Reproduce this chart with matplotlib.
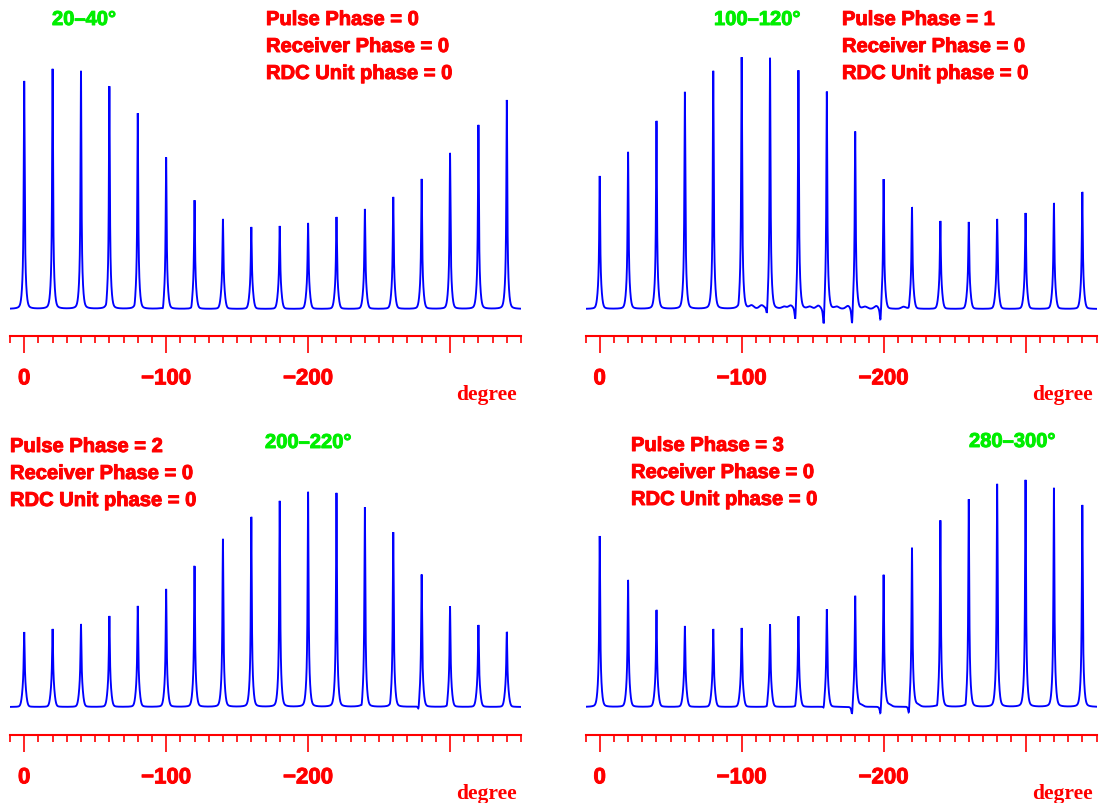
import numpy as np
import matplotlib
matplotlib.use("Agg")
import matplotlib.pyplot as plt
import matplotlib.patheffects as pe
from matplotlib.ticker import FixedLocator, FixedFormatter
from matplotlib import font_manager as fm

# ---------------- data ----------------
peak_positions = [0, -20, -40, -60, -80, -100, -120, -140, -160, -180,
                  -200, -220, -240, -260, -280, -300, -320, -340]

tl_heights = [228, 240, 238, 223, 196, 152, 109, 90, 82, 83, 86, 92, 100, 112, 130, 156, 184, 209]
tr_heights = [133, 157, 188, 217, 238, 252, 252, 240, 219, 179, 131, 102, 88, 87, 90, 96, 106, 117]
bl_heights = [75, 78, 83, 91, 101, 118, 141, 168, 190, 206, 215, 214, 200, 175, 133, 101, 82, 75]
br_heights = [171, 127, 97, 81, 78, 79, 83, 91, 98, 112, 133, 160, 187, 208, 223, 227, 219, 202]

tl_dip_pos = [-57.8, -77.8, -97.8, -117.8]
tl_dip_depth = [-4, -4, -6, -4]
tr_dip_pos = [-97.8, -117.8, -137.8, -157.8, -177.8, -197.8, -217.8]
tr_dip_depth = [-5, -14, -20, -24, -23, -18, -4]
tr_ripple_pos = [-107, -114, -130, -134.5, -148, -154, -167, -175, -187, -195, -214]
tr_ripple_h = [3, 3, 2, 3, 2, 3, 2, 3, 2, 3, 2]
bl_dip_pos = [-237.8, -257.8, -277.8, -297.8]
bl_dip_depth = [-6, -4, -8, -4]
br_dip_pos = [-117.8, -137.8, -157.8, -177.8, -197.8, -217.8, -237.8, -257.8]
br_dip_depth = [-4, -4, -6, -13, -13, -13, -6, -6]
br_ripple_pos = [-184, -204, -224]
br_ripple_h = [2, 2, 2]

range_labels = ["20–40°", "100–120°", "200–220°", "280–300°"]
pulse_phases = [0, 1, 2, 3]
receiver_phases = [0, 0, 0, 0]
rdc_phases = [0, 0, 0, 0]

major_ticks = [0, -100, -200, -300]
major_labels = ["0", "−100", "−200", ""]
minor_ticks = list(range(10, -351, -10))
x_limits = (10, -350)
axis_label = "degree"

# ---------------- styling ----------------
RED = "#ff0000"
GREEN = "#00ee00"
BLUE = "#0000ff"

names = {f.name for f in fm.fontManager.ttflist}
if "Liberation Sans Narrow" in names:
    SANS = ["Liberation Sans Narrow", "Liberation Sans", "DejaVu Sans"]
    ann_fs, tick_fs = 17.5, 18
else:
    SANS = ["Liberation Sans", "DejaVu Sans"]
    ann_fs, tick_fs = 14.5, 16
SERIF = ["Liberation Serif", "DejaVu Serif"]

W, H = 1100, 804
fig = plt.figure(figsize=(W / 100, H / 100), dpi=100)
fig.patch.set_facecolor("white")


def fx(px):
    return px / W


def fy(py):
    return 1 - py / H


def thick(color):
    return [pe.withStroke(linewidth=0.7, foreground=color)]


def spectrum(x, heights, dip_pos, dip_depth, rip_pos, rip_h):
    y = np.zeros_like(x)
    g = 0.38   # spike half width (deg)
    s = 1.2    # skirt sigma (deg)
    for p, h in zip(peak_positions, heights):
        skirt = 22.0
        y += (h - skirt) * g**2 / ((x - p) ** 2 + g**2)
        y += skirt * np.exp(-((x - p) ** 2) / (2 * s**2))
    for p, d in zip(dip_pos, dip_depth):
        y += d * 0.6**2 / ((x - p) ** 2 + 0.6**2)
    for p, h in zip(rip_pos, rip_h):
        y += h * np.exp(-((x - p) ** 2) / (2 * 1.5**2))
    return y


panels = [
    dict(left=10, axis_y=337, base_y=310, top_y=45, heights=tl_heights,
         dips=(tl_dip_pos, tl_dip_depth), rip=([], []),
         green=(52, 26), red=(266, 26)),
    dict(left=585.5, axis_y=337, base_y=310, top_y=45, heights=tr_heights,
         dips=(tr_dip_pos, tr_dip_depth), rip=(tr_ripple_pos, tr_ripple_h),
         green=(714, 26), red=(842, 26)),
    dict(left=10, axis_y=736, base_y=708, top_y=440, heights=bl_heights,
         dips=(bl_dip_pos, bl_dip_depth), rip=([], []),
         green=(265, 449), red=(10, 453)),
    dict(left=585.5, axis_y=736, base_y=708, top_y=440, heights=br_heights,
         dips=(br_dip_pos, br_dip_depth), rip=(br_ripple_pos, br_ripple_h),
         green=(969, 448), red=(631, 452)),
]

x = np.linspace(x_limits[0], x_limits[1], 24001)
width_px = 511

for i, pn in enumerate(panels):
    h_px = pn["axis_y"] - pn["top_y"]
    ax = fig.add_axes([fx(pn["left"]), fy(pn["axis_y"]), width_px / W, h_px / H])
    y = spectrum(x, pn["heights"], pn["dips"][0], pn["dips"][1], pn["rip"][0], pn["rip"][1])
    ax.plot(x, y, color=BLUE, lw=1.35, solid_joinstyle="miter")
    ax.set_xlim(*x_limits)
    ax.set_ylim(-(pn["axis_y"] - pn["base_y"]), pn["base_y"] - pn["top_y"])
    for side in ("top", "left", "right"):
        ax.spines[side].set_visible(False)
    ax.spines["bottom"].set_color(RED)
    ax.spines["bottom"].set_linewidth(1.5)
    ax.set_facecolor("none")
    ax.yaxis.set_visible(False)
    ax.xaxis.set_major_locator(FixedLocator(major_ticks))
    ax.xaxis.set_major_formatter(FixedFormatter(major_labels))
    ax.xaxis.set_minor_locator(FixedLocator(minor_ticks))
    ax.tick_params(axis="x", which="major", direction="out", length=12, width=1.2,
                   color=RED, labelcolor=RED, labelsize=tick_fs, pad=11.3)
    ax.tick_params(axis="x", which="minor", direction="out", length=5, width=1.2,
                   color=RED)
    for lab in ax.get_xticklabels():
        lab.set_fontweight("bold")
        lab.set_family(SANS)
        lab.set_path_effects(thick(RED))

    # axis unit label
    fig.text(fx(pn["left"] + width_px - 4), fy(pn["axis_y"] + 63), axis_label,
             color=RED, fontsize=15.5, fontweight="bold", family=SERIF,
             ha="right", va="baseline")

    # green range label
    gx, gy = pn["green"]
    fig.text(fx(gx), fy(gy), range_labels[i], color=GREEN, fontsize=ann_fs,
             fontweight="bold", family=SANS, ha="left", va="baseline",
             path_effects=thick(GREEN))

    # red phase annotation
    rx, ry = pn["red"]
    lines = [f"Pulse Phase = {pulse_phases[i]}",
             f"Receiver Phase = {receiver_phases[i]}",
             f"RDC Unit phase = {rdc_phases[i]}"]
    for k, s in enumerate(lines):
        fig.text(fx(rx), fy(ry + 27 * k), s, color=RED, fontsize=ann_fs,
                 fontweight="bold", family=SANS, ha="left", va="baseline",
                 path_effects=thick(RED))

fig.savefig("out.png", dpi=100, facecolor="white")
